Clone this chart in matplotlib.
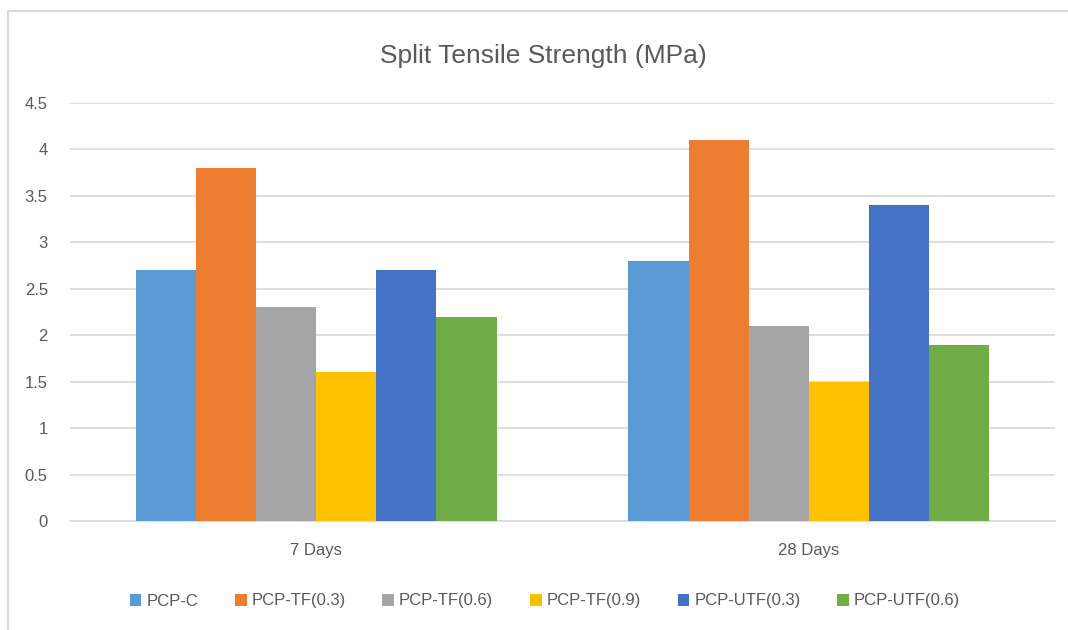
import numpy
from matplotlib import pyplot
from matplotlib.patches import Rectangle

# Data
groups = ["7 Days", "28 Days"]
series = ["PCP-C", "PCP-TF(0.3)", "PCP-TF(0.6)", "PCP-TF(0.9)", "PCP-UTF(0.3)", "PCP-UTF(0.6)"]
values = [
    [2.7, 2.8],
    [3.8, 4.1],
    [2.3, 2.1],
    [1.6, 1.5],
    [2.7, 3.4],
    [2.2, 1.9],
]
colors = ["#5B9BD5", "#ED7D31", "#A5A5A5", "#FFC000", "#4472C4", "#70AD47"]

pyplot.rcParams["font.family"] = ["Liberation Sans", "DejaVu Sans"]
text_color = "#595959"

fig = pyplot.figure(figsize=(10.68, 6.3), dpi=100)
ax = fig.add_axes([70 / 1068, 1 - 521 / 630, 985 / 1068, 418 / 630])

# Chart border (only top and left visible in the crop)
fig.patches.append(
    Rectangle((8 / 1068, -0.1), 1.2, 1.1 - 11 / 630, transform=fig.transFigure,
              fill=False, edgecolor="#D9D9D9", lw=1.5)
)

x = numpy.arange(len(groups))
bw = 0.122
n = len(series)
for i, (name, vals, c) in enumerate(zip(series, values, colors)):
    ax.bar(x + (i - (n - 1) / 2) * bw, vals, bw, color=c, label=name, zorder=3)

ax.set_xlim(-0.5, len(groups) - 0.5)
ax.set_ylim(0, 4.5)
ax.set_yticks(numpy.arange(0, 4.51, 0.5))
ax.set_yticklabels(["0", "0.5", "1", "1.5", "2", "2.5", "3", "3.5", "4", "4.5"])
ax.set_xticks(x)
ax.set_xticklabels(groups)
ax.grid(axis="y", color="#D9D9D9", lw=1.2, zorder=0)
for s in ["top", "right", "left"]:
    ax.spines[s].set_visible(False)
ax.spines["bottom"].set_color("#D9D9D9")
ax.spines["bottom"].set_linewidth(1.2)
ax.tick_params(axis="both", length=0, colors=text_color, labelsize=12)
ax.tick_params(axis="y", pad=16)
ax.tick_params(axis="x", pad=16)

fig.text(543 / 1068, 1 - 56 / 630, "Split Tensile Strength (MPa)", ha="center", va="center",
         fontsize=19, color=text_color)

fig.legend(loc="center", bbox_to_anchor=(545 / 1068, 1 - 601 / 630), ncol=6, frameon=False,
           fontsize=12, handlelength=0.7, handleheight=0.7, handletextpad=0.3,
           columnspacing=2.2, labelcolor=text_color)

fig.savefig("out.png", dpi=100)
